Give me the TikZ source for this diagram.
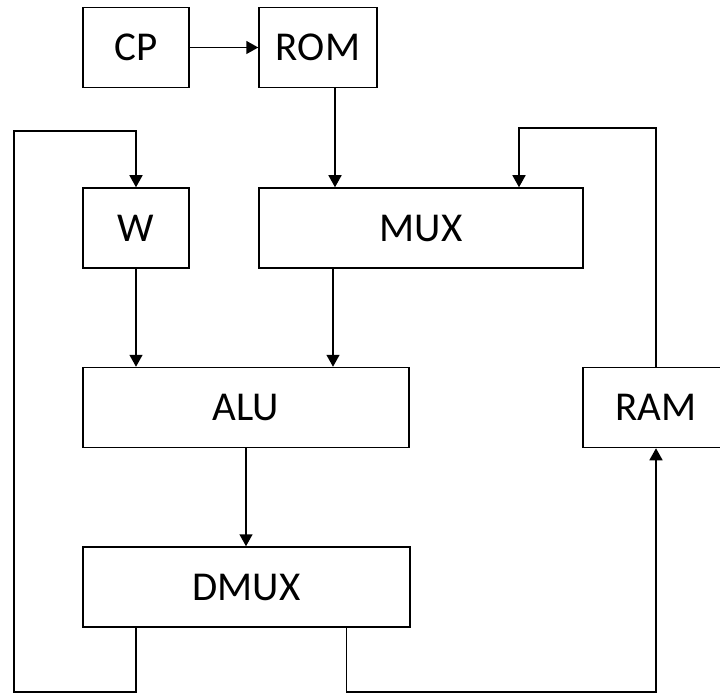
\documentclass[tikz,border=0pt]{standalone}
\usepackage{fontspec}
\setmainfont{Carlito}
\usepackage{tikz}
\usetikzlibrary{arrows.meta}

\begin{document}
\begin{tikzpicture}[x=1pt,y=-1pt,
  font=\fontsize{41}{49}\selectfont,
  unit/.style={draw,line width=1.5pt,inner sep=0pt,minimum height=80pt},
  wire/.style={line width=1.5pt},
  feed/.style={wire,-{Triangle[width=13pt,length=12pt]}}]
  \useasboundingbox (0,0) rectangle (720,695);
  % blocks
  \node[unit,minimum width=106pt] (CP) at (136,47.5) {CP};
  \node[unit,minimum width=118pt] (ROM) at (318,47.5) {ROM};
  \node[unit,minimum width=106pt] (W) at (136,228) {W};
  \node[unit,minimum width=324pt] (MUX) at (421,228) {MUX};
  \node[unit,minimum width=326pt] (ALU) at (246,407.5) {ALU};
  \node[unit,minimum width=146pt] (RAM) at (656,407.5) {RAM};
  \node[unit,minimum width=327pt] (DMUX) at (246.5,587) {DMUX};
  % corners of the loops
  \coordinate (lbot) at (14,692);
  \coordinate (ltop) at (14,131);
  \coordinate (rtop) at (519,128);
  % connections
  \draw[feed] (CP.east) -- (ROM.west);
  \draw[feed] ([xshift=17pt]ROM.south) -- ([xshift=17pt]ROM.south |- MUX.north);
  \draw[feed] (W.south) -- (W.south |- ALU.north);
  \draw[feed] ([xshift=-88pt]MUX.south) -- ([xshift=-88pt]MUX.south |- ALU.north);
  \draw[feed] (ALU.south) -- (ALU.south |- DMUX.north);
  \draw[feed] (W.south |- DMUX.south) -- (W |- lbot) -- (lbot) -- (ltop)
    -- (W |- ltop) -- (W.north);
  \draw[feed] ([xshift=100pt]DMUX.south) |- (RAM |- lbot) -- (RAM.south);
  \draw[feed] (RAM.north) |- (rtop) -- (rtop |- MUX.north);
\end{tikzpicture}
\end{document}
